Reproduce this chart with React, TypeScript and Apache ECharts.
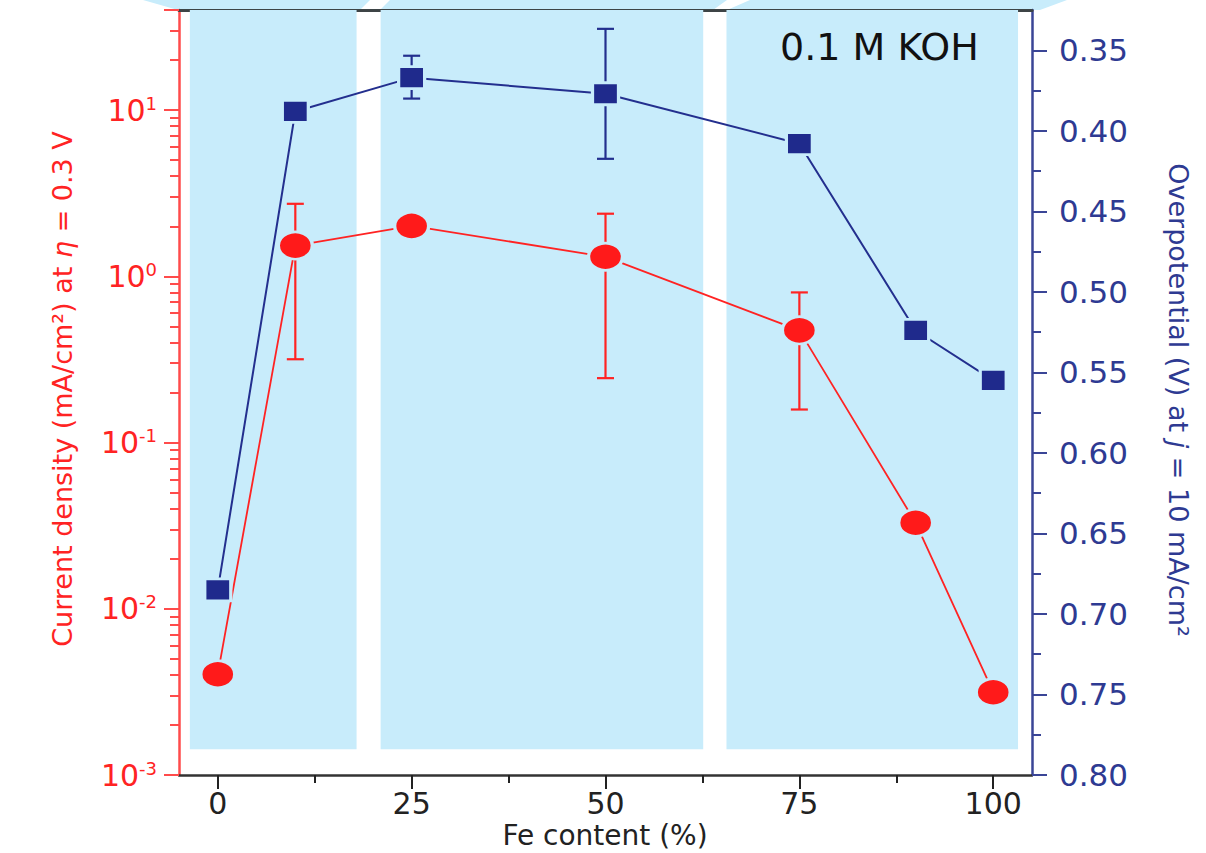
import React, { useEffect, useRef } from 'react';
import * as echarts from 'echarts';

// ---- data ----
const feContent = [0, 10, 25, 50, 75, 90, 100];
const currentDensity = [0.00404, 1.53, 2.01, 1.31, 0.473, 0.0329, 0.00315];
const currentErrX = [10, 50, 75];
const currentErrLow = [0.317, 0.244, 0.158];
const currentErrHigh = [2.73, 2.38, 0.8];
const overpotential = [0.685, 0.388, 0.367, 0.377, 0.408, 0.524, 0.555];
const overErrX = [25, 50];
const overErrLow = [0.3534, 0.3367];
const overErrHigh = [0.38, 0.4174];

// ---- ticks ----
const xTicks = [0, 25, 50, 75, 100];
const xMinorTicks = [12.5, 37.5, 62.5, 87.5];
const rightTicks = [0.35, 0.4, 0.45, 0.5, 0.55, 0.6, 0.65, 0.7, 0.75, 0.8];
const rightMinorTicks = [0.375, 0.425, 0.475, 0.525, 0.575, 0.625, 0.675, 0.725, 0.775];
const leftDecades = [0.001, 0.01, 0.1, 1, 10];
const leftMultipliers = [2, 3, 4, 5, 6, 7, 8, 9];
const leftMax = 40;

// ---- background bands (x ranges in Fe content) ----
const bandRanges = [
  [-3.6, 17.9],
  [21.0, 62.6],
  [65.6, 103.2],
];
const bandBottom = 0.00143;

const FONT = 'DejaVu Sans';
const RED = '#FF2323';
const RED_AXIS = '#FF4B4B';
const NAVY = '#232F8E';
const NAVY_AXIS = '#3A4596';
const BAND = '#C8ECFB';

export default function App() {
  const ref = useRef<HTMLDivElement>(null);
  useEffect(() => {
    if (!ref.current) return;
    const chart = echarts.init(ref.current, undefined, { renderer: 'svg' });

    const leftMinor: number[] = [];
    leftDecades.forEach((d) => {
      leftMultipliers.forEach((m) => {
        const v = d * m;
        if (v <= leftMax + 1e-9) leftMinor.push(Math.log10(v));
      });
    });

    const redLine = feContent.map((x, i) => [x, currentDensity[i]]);
    const blueLine = feContent.map((x, i) => [x, overpotential[i]]);
    const redErr = currentErrX.map((x, i) => [x, currentErrLow[i], currentErrHigh[i]]);
    const blueErr = overErrX.map((x, i) => [x, overErrLow[i], overErrHigh[i]]);

    const errRender = (color: string, capHalf: number) => (params: any, api: any) => {
      const x = api.value(0);
      const p1 = api.coord([x, api.value(1)]);
      const p2 = api.coord([x, api.value(2)]);
      const style = { stroke: color, lineWidth: 2.2 };
      return {
        type: 'group',
        children: [
          { type: 'line', shape: { x1: p1[0], y1: p1[1], x2: p2[0], y2: p2[1] }, style },
          { type: 'line', shape: { x1: p1[0] - capHalf, y1: p1[1], x2: p1[0] + capHalf, y2: p1[1] }, style },
          { type: 'line', shape: { x1: p2[0] - capHalf, y1: p2[1], x2: p2[0] + capHalf, y2: p2[1] }, style },
        ],
      };
    };

    const supRich = {
      b: { fontSize: 30, fontFamily: FONT, color: RED, lineHeight: 32 },
      s: { fontSize: 18, fontFamily: FONT, color: RED, lineHeight: 22, verticalAlign: 'top' },
    };

    const option: any = {
      animation: false,
      backgroundColor: '#ffffff',
      grid: { left: 179, right: 174, top: 10, bottom: 78, containLabel: false },
      xAxis: [
        {
          type: 'value', min: -5, max: 105, position: 'bottom',
          axisLine: { show: true, onZero: false, lineStyle: { color: '#333', width: 2.5 } },
          axisTick: { show: true, inside: false, length: 14, customValues: xTicks, lineStyle: { color: '#222', width: 2 } },
          axisLabel: { show: true, customValues: xTicks, margin: 13, color: '#222', fontSize: 30, fontFamily: FONT },
          splitLine: { show: false },
        },
        {
          type: 'value', min: -5, max: 105, position: 'bottom',
          axisLine: { show: false, onZero: false },
          axisTick: { show: true, inside: false, length: 8, customValues: xMinorTicks, lineStyle: { color: '#222', width: 2 } },
          axisLabel: { show: false },
          splitLine: { show: false },
        },
        {
          type: 'value', min: -5, max: 105, position: 'top',
          axisLine: { show: true, onZero: false, lineStyle: { color: '#3d4446', width: 3 } },
          axisTick: { show: false },
          axisLabel: { show: false },
          splitLine: { show: false },
        },
      ],
      yAxis: [
        {
          type: 'log', logBase: 10, min: 0.001, max: leftMax, position: 'left',
          axisLine: { show: true, onZero: false, lineStyle: { color: RED_AXIS, width: 2.5 } },
          axisTick: { show: true, inside: false, length: 15, lineStyle: { color: RED_AXIS, width: 2 } },
          axisLabel: {
            show: true, margin: 22,
            formatter: (v: number) => {
              const e = Math.log10(v);
              const r = Math.round(e);
              if (Math.abs(e - r) > 1e-6) return '';
              return `{b|10}{s|${r}}`;
            },
            rich: supRich,
          },
          splitLine: { show: false },
          minorTick: { show: false },
        },
        {
          type: 'value', min: -3, max: Math.log10(leftMax), position: 'left',
          axisLine: { show: false, onZero: false },
          axisTick: { show: true, inside: false, length: 9, customValues: leftMinor, lineStyle: { color: RED_AXIS, width: 2 } },
          axisLabel: { show: false },
          splitLine: { show: false },
        },
        {
          type: 'value', min: 0.325, max: 0.8, inverse: true, position: 'right',
          axisLine: { show: true, onZero: false, lineStyle: { color: NAVY_AXIS, width: 2.5 } },
          axisTick: { show: true, inside: false, length: 15, customValues: rightTicks, lineStyle: { color: NAVY_AXIS, width: 2 } },
          axisLabel: {
            show: true, customValues: rightTicks, margin: 27, color: '#2E3A92', fontSize: 31, fontFamily: FONT,
            formatter: (v: number) => v.toFixed(2),
          },
          splitLine: { show: false },
        },
        {
          type: 'value', min: 0.325, max: 0.8, inverse: true, position: 'right',
          axisLine: { show: false, onZero: false },
          axisTick: { show: true, inside: false, length: 9, customValues: rightMinorTicks, lineStyle: { color: NAVY_AXIS, width: 2 } },
          axisLabel: { show: false },
          splitLine: { show: false },
        },
      ],
      graphic: [
        { type: 'polygon', z: -10, shape: { points: [[143, 0], [370, 0], [360, 10], [178, 10]] }, style: { fill: BAND } },
        { type: 'polygon', z: -10, shape: { points: [[390, 0], [727, 0], [713, 10], [380, 10]] }, style: { fill: BAND } },
        { type: 'polygon', z: -10, shape: { points: [[750, 0], [1067, 0], [1040, 10], [727, 10]] }, style: { fill: BAND } },
        {
          type: 'text', x: 780, y: 47, z: 10,
          style: { text: '0.1 M KOH', fontSize: 38, fontFamily: FONT, fill: '#111', align: 'left', verticalAlign: 'middle' },
        },
        {
          type: 'text', x: 62, y: 389, rotation: Math.PI / 2, z: 10,
          style: {
            text: 'Current density (mA/cm²) at {i|η} = 0.3 V',
            fontSize: 27, fontFamily: FONT, fill: RED, align: 'center', verticalAlign: 'middle',
            rich: { i: { fontSize: 27, fontFamily: FONT, fill: RED, fontStyle: 'italic' } },
          },
        },
        {
          type: 'text', x: 1178, y: 400, rotation: -Math.PI / 2, z: 10,
          style: {
            text: 'Overpotential (V) at {i|j} = 10 mA/cm²',
            fontSize: 27, fontFamily: FONT, fill: '#2E3A92', align: 'center', verticalAlign: 'middle',
            rich: { i: { fontSize: 27, fontFamily: FONT, fill: '#2E3A92', fontStyle: 'italic' } },
          },
        },
        {
          type: 'text', x: 605, y: 835, z: 10,
          style: { text: 'Fe content (%)', fontSize: 28, fontFamily: FONT, fill: '#222', align: 'center', verticalAlign: 'middle' },
        },
      ],
      series: [
        {
          type: 'line', xAxisIndex: 0, yAxisIndex: 0, data: [], z: 1, silent: true,
          markArea: {
            silent: true,
            itemStyle: { color: BAND, opacity: 1, borderWidth: 0 },
            data: bandRanges.map((r) => [{ xAxis: r[0], yAxis: bandBottom }, { xAxis: r[1], yAxis: leftMax }]),
          },
        },
        {
          type: 'custom', xAxisIndex: 0, yAxisIndex: 0, z: 3,
          renderItem: errRender(RED, 8.5), encode: { x: 0, y: [1, 2] }, data: redErr,
        },
        {
          type: 'custom', xAxisIndex: 0, yAxisIndex: 2, z: 3,
          renderItem: errRender(NAVY, 8.5), encode: { x: 0, y: [1, 2] }, data: blueErr,
        },
        {
          type: 'line', xAxisIndex: 0, yAxisIndex: 0, z: 4, data: redLine,
          symbol: 'circle', symbolSize: [34, 27],
          lineStyle: { color: RED, width: 1.8 },
          itemStyle: { color: '#FF1A1A', borderColor: BAND, borderWidth: 3 },
        },
        {
          type: 'line', xAxisIndex: 0, yAxisIndex: 2, z: 4, data: blueLine,
          symbol: 'rect', symbolSize: [26, 22],
          lineStyle: { color: NAVY, width: 2 },
          itemStyle: { color: '#1F2A8C', borderColor: BAND, borderWidth: 3 },
        },
      ],
    };
    chart.setOption(option);
    return () => chart.dispose();
  }, []);
  return (
    <div
      ref={ref}
      style={{ position: 'fixed', left: 0, top: 0, width: 1206, height: 853, background: '#fff' }}
    />
  );
}
